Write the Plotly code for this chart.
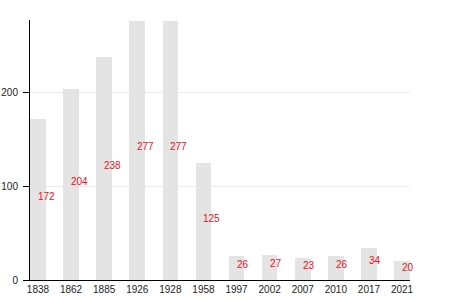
import plotly.graph_objects as go

years = ["1838", "1862", "1885", "1926", "1928", "1958", "1997", "2002", "2007", "2010", "2017", "2021"]
population = [172, 204, 238, 277, 277, 125, 26, 27, 23, 26, 34, 20]

BAR_COLOR = "#e4e4e4"
LABEL_COLOR = "#e8101a"
FONT = "Liberation Sans, Arial, sans-serif"

fig = go.Figure()
fig.add_trace(go.Bar(
    x=years, y=population, width=0.47,
    marker=dict(color=BAR_COLOR, line=dict(width=0)),
    hoverinfo="skip",
))

for i, v in enumerate(population):
    fig.add_annotation(
        x=i, y=v / 2, text=str(v), showarrow=False,
        xanchor="left", yanchor="bottom", xshift=-1, yshift=-3,
        font=dict(family=FONT, size=10, color=LABEL_COLOR),
        borderpad=0,
    )

fig.update_layout(
    width=450, height=300,
    margin=dict(l=30, r=40, t=20, b=20),
    paper_bgcolor="white", plot_bgcolor="white",
    showlegend=False, bargap=0,
    font=dict(family=FONT, size=10, color="#222"),
)
fig.update_xaxes(
    type="category", range=[-0.24, 11.24], automargin=False,
    showgrid=False, showline=True, linecolor="black", linewidth=1,
    ticks="", tickfont=dict(size=10, color="#222"),
    fixedrange=True,
)
fig.update_yaxes(
    range=[0, 278], tickvals=[0, 100, 200], automargin=False,
    showgrid=True, gridcolor="#ebebeb", gridwidth=1,
    showline=True, linecolor="black", linewidth=1,
    ticks="outside", ticklen=6, tickcolor="black",
    tickfont=dict(size=10, color="#222"), ticklabelstandoff=3,
    zeroline=False, fixedrange=True,
)

fig.write_html("out.html")
